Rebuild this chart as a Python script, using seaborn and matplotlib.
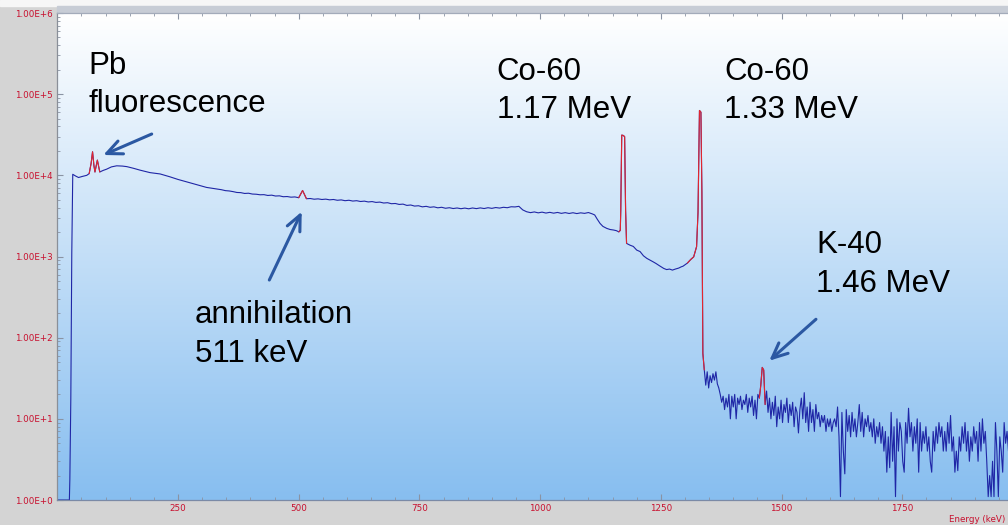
"""Gamma spectrum with Co-60, K-40, annihilation and Pb fluorescence peaks."""
import matplotlib; matplotlib.use("Agg")
import numpy as np
import pandas as pd
import matplotlib.pyplot as plt
import seaborn as sns
from matplotlib.patches import Rectangle
from matplotlib.ticker import FuncFormatter, LogLocator, MultipleLocator, NullFormatter

# low-energy part and Co-60 region, explicit points (energy keV, counts)
MAIN_KEV = [0, 25, 26, 28, 30, 32, 38, 44, 52, 61, 66, 70, 73, 76, 78, 81, 83, 86, 88,
            95, 102, 112, 123, 135, 144, 158, 171, 192, 213, 233, 250, 268, 288, 309,
            1113, 1118, 1124, 1130, 1138, 1145, 1152, 1158, 1163, 1166, 1167, 1169, 1172,
            1175, 1177, 1179, 1186, 1193, 1200, 1207, 1214, 1221, 1228, 1234, 1240, 1247,
            1256, 1262, 1268, 1274, 1280, 1287, 1292, 1296, 1305, 1312, 1318, 1324, 1327,
            1330, 1333, 1335, 1337]
MAIN_COUNTS = [1, 1, 1.8, 18, 1100, 10300, 9800, 9400, 9700, 10000, 10500, 14000, 19500,
               13000, 11000, 13500, 15400, 12500, 11000, 11500, 11900, 12700, 13100, 13000,
               12800, 12200, 11600, 10800, 10400, 9600, 8900, 8300, 7700, 7100,
               3250, 2900, 2560, 2350, 2220, 2150, 2120, 2080, 2010, 2100, 3730, 31300,
               31000, 30000, 3700, 1450, 1380, 1330, 1200, 1150, 1020, 948, 900, 860, 820,
               770, 713, 690, 700, 680, 700, 720, 745, 760, 830, 920, 990, 1320, 3500,
               63000, 60000, 6300, 64]

# flat continuum (incl. 511 keV line), one value every CONT_STEP_KEV
CONT_START_KEV = 340
CONT_STEP_KEV = 8
CONT_COUNTS = [
    6650, 6480, 6420, 6300, 6150, 6120, 5980, 6020, 5880, 5850,
    5760, 5780, 5650, 5700, 5560, 5590, 5450, 5480, 5380, 5420,
    5300, 6500, 5150, 5180, 5080, 5130, 5040, 5090, 4990, 5040,
    4930, 4980, 4870, 4930, 4820, 4870, 4760, 4810, 4700, 4750,
    4640, 4680, 4560, 4600, 4470, 4500, 4380, 4420, 4260, 4310,
    4180, 4220, 4090, 4150, 4040, 4090, 3980, 4040, 3930, 3990,
    3900, 3960, 3880, 3950, 3870, 3960, 3890, 3970, 3900, 3990,
    3920, 4010, 3950, 4040, 3990, 4100, 4080, 4150, 3750, 3560,
    3470, 3540, 3450, 3520, 3430, 3500, 3420, 3490, 3400, 3470,
    3390, 3460, 3380, 3450, 3400, 3480, 3350]

# noisy tail above 1.33 MeV, one value every TAIL_STEP_KEV
TAIL_START_KEV = 1340
TAIL_STEP_KEV = 3
TAIL_COUNTS = [
    40, 26, 38, 24, 34, 28, 36, 30, 38, 27,
    24, 20, 16, 19, 13, 18, 14, 20, 10, 19,
    14, 20, 10, 18, 15, 19, 13, 17, 15, 20,
    12, 18, 14, 19, 11, 17, 10, 20, 18, 26,
    43, 40, 15, 22, 12, 18, 10, 16, 11, 19,
    8, 14, 10, 17, 9, 15, 12, 18, 9, 15,
    11, 16, 8, 14, 12, 6.7, 13, 18, 10, 21,
    9, 14, 7, 16, 9, 13, 7, 15, 10, 12,
    8, 11, 9, 11, 7, 10, 8, 10, 7, 9,
    10, 8, 14, 6, 1.1, 12, 4, 2.1, 13, 7,
    11, 6, 12, 7, 10, 6, 9, 15, 7, 12,
    6, 10, 8, 11, 7, 9, 6, 10, 5, 8,
    6, 9, 5, 8, 4, 7, 2.2, 6, 2.5, 12,
    3, 8, 1.1, 10, 4, 9, 7, 3, 2.2, 9,
    5, 13.5, 6, 9, 4, 8, 5, 10, 2.2, 9,
    4, 7, 5, 8, 4, 6, 3, 2.2, 7, 4,
    8, 5, 9, 6, 8, 4, 7, 4, 9, 5,
    11, 4, 6, 2.2, 4, 2.3, 6, 4, 8, 5,
    9, 4, 7, 3, 6, 4, 8, 5, 7, 3,
    9, 4, 10, 5, 7, 3, 1.1, 2, 1.1, 3,
    1.1, 9, 4, 1.1, 6, 4, 2.2, 9, 5, 7,
    4]

# energy windows drawn in red (identified peaks)
PEAK_WINDOWS = [(64, 90), (500, 516), (1163, 1179), (1300, 1340), (1454, 1466)]

XTICKS = [250, 500, 750, 1000, 1250, 1500, 1750]
YTICKS = [1, 1e1, 1e2, 1e3, 1e4, 1e5, 1e6]
XLIM = (0, 1969)
YLIM = (1, 1e6)

# (text, x, y) in axes fraction, y = baseline
LABELS = [("Pb", 0.0326, 0.8747), ("fluorescence", 0.0326, 0.7973),
          ("Co-60", 0.4622, 0.8624), ("1.17 MeV", 0.4622, 0.7838),
          ("Co-60", 0.7013, 0.8624), ("1.33 MeV", 0.7013, 0.7838),
          ("K-40", 0.7980, 0.5066), ("1.46 MeV", 0.7980, 0.4277),
          ("annihilation", 0.1448, 0.3628), ("511 keV", 0.1448, 0.2840)]
# (tail, head) in axes fraction
ARROWS = [((0.0993, 0.7515), (0.0484, 0.7084)),
          ((0.2230, 0.4517), (0.2571, 0.5920)),
          ((0.7980, 0.3711), (0.7489, 0.2860))]

BLUE, RED, ARROW, TICKRED = "#1f26a6", "#e3262e", "#2b58a2", "#c8102e"


def main():
    sns.set_style("white")
    plt.rcParams["font.family"] = ["Liberation Sans", "DejaVu Sans"]

    cont_kev = CONT_START_KEV + CONT_STEP_KEV * np.arange(len(CONT_COUNTS))
    tail_kev = TAIL_START_KEV + TAIL_STEP_KEV * np.arange(len(TAIL_COUNTS))
    df = pd.DataFrame({"energy": np.concatenate([MAIN_KEV, cont_kev, tail_kev]),
                       "counts": np.concatenate([MAIN_COUNTS, CONT_COUNTS, TAIL_COUNTS])})
    df = df.sort_values("energy").reset_index(drop=True)

    fig = plt.figure(figsize=(10.08, 5.25), dpi=100, facecolor="#d4d4d4")
    fig.add_artist(Rectangle((0, 519 / 525), 1, 6 / 525, transform=fig.transFigure,
                             color="#f6f6f6", zorder=0))
    fig.add_artist(Rectangle((57.3 / 1008, 512 / 525), 1, 7 / 525, transform=fig.transFigure,
                             color="#c7ccd5", zorder=0))
    ax = fig.add_axes([57.3 / 1008, 25 / 525, 950.7 / 1008, 487 / 525])
    ax.set_yscale("log")

    # white -> light blue background
    g = np.linspace(0, 1, 256)[:, None, None]
    top, bot = np.array([1.0, 1.0, 1.0]), np.array([0.53, 0.745, 0.94])
    ax.imshow(top + (bot - top) * g, extent=(0, 1, 0, 1), transform=ax.transAxes,
              aspect="auto", zorder=0, interpolation="bilinear")

    sns.lineplot(data=df, x="energy", y="counts", color=BLUE, lw=0.8, ax=ax,
                 estimator=None, sort=False, legend=False, zorder=2)
    for lo, hi in PEAK_WINDOWS:
        sub = df[(df.energy >= lo) & (df.energy <= hi)]
        sns.lineplot(data=sub, x="energy", y="counts", color=RED, lw=0.8, ax=ax,
                     estimator=None, sort=False, legend=False, zorder=3)

    ax.set_xlim(*XLIM); ax.set_ylim(*YLIM)
    ax.set_xlabel(""); ax.set_ylabel("")
    ax.set_xticks(XTICKS)
    ax.set_yticks(YTICKS)
    ax.xaxis.set_minor_locator(MultipleLocator(50))
    ax.yaxis.set_minor_locator(LogLocator(base=10, subs=np.arange(2, 10), numticks=10))
    ax.yaxis.set_minor_formatter(NullFormatter())
    ax.yaxis.set_major_formatter(FuncFormatter(lambda v, p: f"1.00E+{int(round(np.log10(v)))}"))
    ax.set_ylim(*YLIM)
    ax.tick_params(which="both", direction="in", top=True, bottom=True, left=True, right=False,
                   color="#8a93a3", labelcolor=TICKRED, labelsize=6.3, pad=3)
    ax.tick_params(which="major", length=4, width=0.8)
    ax.tick_params(which="minor", length=2.5, width=0.6)
    for lab in ax.get_xticklabels() + ax.get_yticklabels():
        lab.set_family("DejaVu Sans")
    ax.spines["right"].set_visible(False)
    ax.spines["left"].set_color("#8a8f98")
    ax.spines["bottom"].set_color("#7b8aa6")
    ax.spines["top"].set_color("#a3abba")
    for s in ax.spines.values():
        s.set_linewidth(0.9)

    for txt, x, y in LABELS:
        ax.text(x, y, txt, transform=ax.transAxes, fontsize=22.5, color="black",
                ha="left", va="baseline", zorder=5)
    for (x0, y0), (x1, y1) in ARROWS:
        ax.annotate("", xy=(x1, y1), xytext=(x0, y0), xycoords="axes fraction",
                    textcoords="axes fraction", zorder=5,
                    arrowprops=dict(arrowstyle="->,head_length=1.1,head_width=0.5",
                                    color=ARROW, lw=2.2, shrinkA=0, shrinkB=0))

    # axis title sits in the bottom-right corner of the gray frame
    fig.text(1005 / 1008, 5.7 / 525, "Energy (keV)", color=TICKRED, fontsize=6.3,
             family="DejaVu Sans", ha="right", va="center")

    fig.savefig("out.png", dpi=100, facecolor=fig.get_facecolor())
    plt.close(fig)


if __name__ == "__main__":
    main()
